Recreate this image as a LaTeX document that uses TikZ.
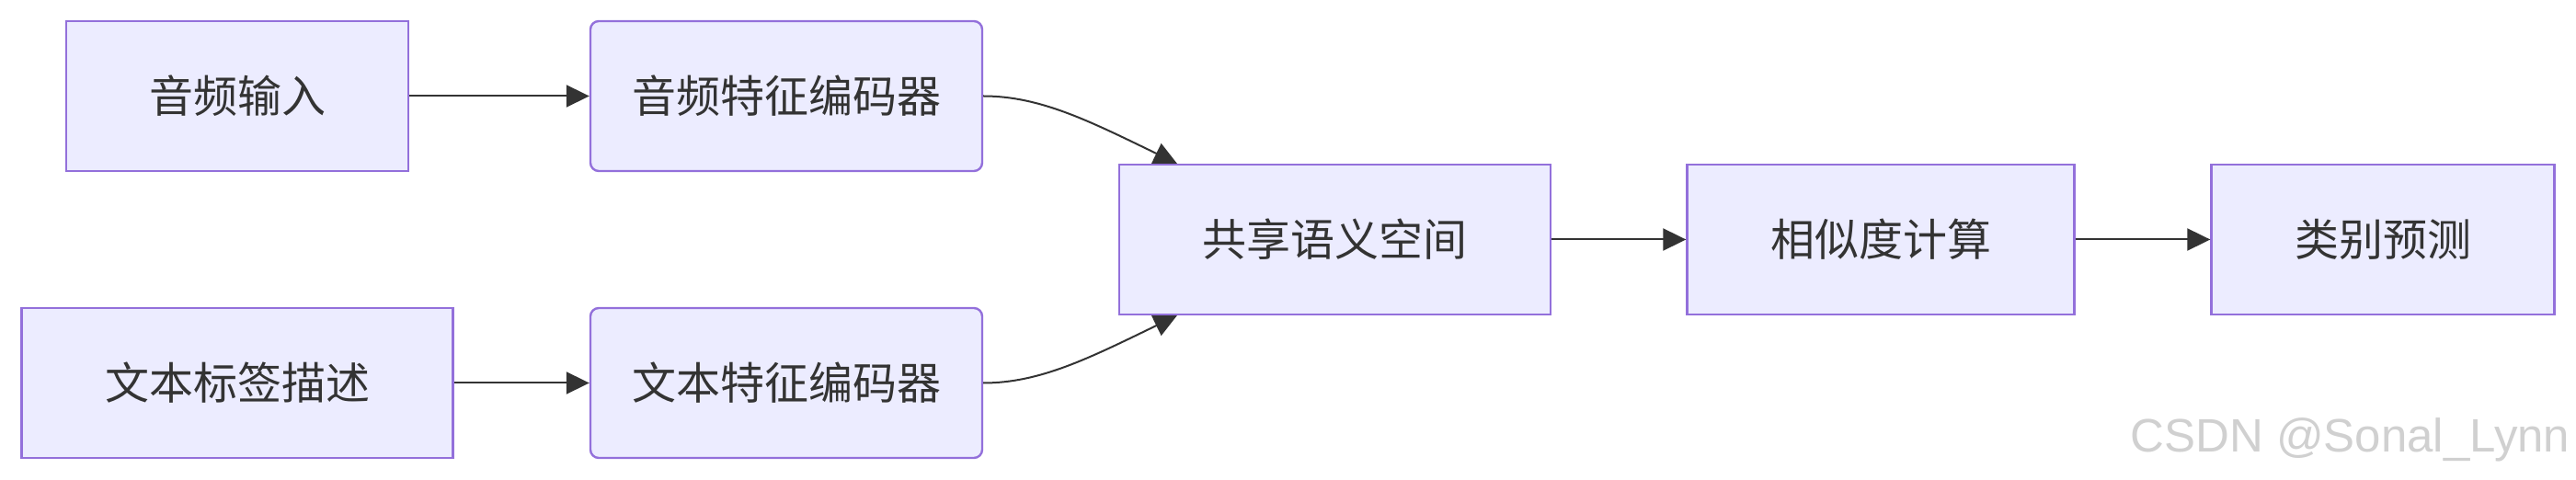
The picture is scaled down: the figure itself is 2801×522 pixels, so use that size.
\documentclass[tikz,border=0pt]{standalone}
\usepackage{fontspec}
\newfontfamily\cjk{Noto Sans CJK SC}
\newfontfamily\wmfont{Liberation Sans}
\usetikzlibrary{arrows.meta,calc}
\definecolor{boxfill}{HTML}{ECECFF}
\definecolor{boxline}{HTML}{9370DB}
\definecolor{ink}{HTML}{333333}
\definecolor{wm}{HTML}{D0D0D0}
\tikzset{
  box/.style={draw=boxline, fill=boxfill, line width=1.2pt, inner sep=0pt,
    minimum height=81.5pt, text=ink, font=\cjk\fontsize{24pt}{28pt}\selectfont},
  rbox/.style={box, rounded corners=4.5pt},
  conn/.style={draw=ink, line width=1pt, -{Triangle[length=12.5pt,width=12pt]}}
}
\begin{document}
\begin{tikzpicture}[x=0.5pt,y=-0.5pt]
\useasboundingbox (0,0) rectangle (2801,522);
\node[box,  minimum width=186pt] (a) at (258,104.5) {音频输入};
\node[rbox, minimum width=213pt] (b) at (855,104.5) {音频特征编码器};
\node[box,  minimum width=234.5pt] (c) at (258,416.5) {文本标签描述};
\node[rbox, minimum width=213pt] (d) at (855,416.5) {文本特征编码器};
\node[box,  minimum width=234.5pt] (e) at (1451.5,260.5) {共享语义空间};
\node[box,  minimum width=210.5pt] (f) at (2045,260.5) {相似度计算};
\node[box,  minimum width=186.5pt] (g) at (2591,260.5) {类别预测};
\coordinate (etop) at ($(e.north west)+(64,0)$);
\coordinate (ebot) at ($(e.south west)+(64,0)$);
\draw[conn] (a.east) -- (b.west);
\draw[conn] (c.east) -- (d.west);
\draw[conn] (b.east) .. controls ($(b.east)+(62,0)$) and ($(etop)+(-95,-46)$) .. (etop);
\draw[conn] (d.east) .. controls ($(d.east)+(62,0)$) and ($(ebot)+(-95,46)$) .. (ebot);
\draw[conn] (e.east) -- (f.west);
\draw[conn] (f.east) -- (g.west);
\node[anchor=base west, inner sep=0pt, text=wm, font=\wmfont\fontsize{25.5pt}{30pt}\selectfont] (wmk) at (2316,492) {CSDN @Sonal\_Lynn};
\end{tikzpicture}
\end{document}
